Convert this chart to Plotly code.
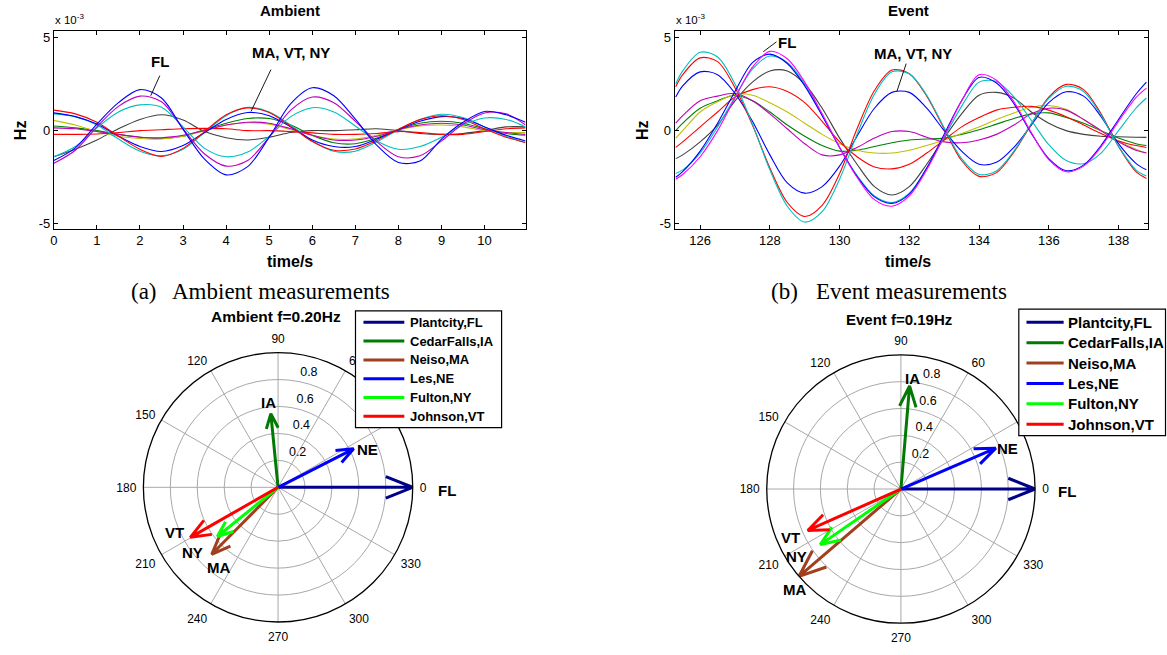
import numpy as np
import plotly.graph_objects as go

W, H = 1167, 655
SANS = "Liberation Sans, Arial, Helvetica, sans-serif"
SERIF = "Liberation Serif, Times New Roman, serif"

# ---------------- frequency deviation traces (units of 1e-3 Hz) ----------------
amb_t = [0, 0.5, 1, 1.5, 2, 2.5, 3, 3.5, 4, 4.5, 5, 5.5, 6, 6.5, 7, 7.5, 8, 8.5,
         9, 9.5, 10, 10.5, 10.95]
amb_blue_a = [-1.6, -0.92, 0.35, 1.5, 2.2, 1.75, 0.07, -1.53, -2.37, -1.93, -0.35, 1.45,
              2.3, 1.87, 0.62, -0.79, -1.71, -1.63, -0.45, 0.45, 1.03, 0.85, 0.45]
amb_magenta_a = [-1.75, -1.05, 0.2, 1.3, 1.85, 1.55, 0.1, -1.25, -1.9, -1.6, -0.35, 1.1,
                 1.8, 1.5, 0.5, -0.6, -1.4, -1.35, -0.55, 0.35, 0.95, 0.9, 0.3]
amb_cyan_a = [-1.4, -0.85, 0.15, 1.0, 1.38, 1.25, 0.2, -0.95, -1.4, -1.15, -0.3, 0.75,
              1.23, 1.0, 0.25, -0.55, -1.0, -0.85, -0.35, 0.3, 0.68, 0.6, 0.2]
amb_red_b = [1.1, 0.9, 0.45, -0.3, -1.0, -1.38, -0.95, -0.05, 0.85, 1.22, 0.97, 0.23,
             -0.58, -1.05, -0.98, -0.53, 0.08, 0.59, 0.8, 0.6, 0.1, -0.35, -0.64]
amb_blue_b = [0.95, 0.75, 0.35, -0.3, -0.85, -1.12, -0.8, -0.1, 0.6, 0.97, 0.8, 0.2,
              -0.5, -0.85, -0.85, -0.45, 0.05, 0.5, 0.75, 0.65, 0.2, -0.25, -0.55]
amb_cyan_b = [0.9, 0.75, 0.3, -0.45, -1.1, -1.35, -1.0, -0.1, 0.8, 1.25, 1.0, 0.3,
              -0.55, -1.1, -1.1, -0.6, 0.05, 0.6, 0.88, 0.7, 0.2, -0.3, -0.65]
amb_gray = [-1.4, -1.0, -0.5, 0.1, 0.6, 0.85, 0.57, -0.05, -0.38, -0.5, -0.35, -0.1,
            0.0, 0.0, 0.05, 0.1, 0.0, -0.15, -0.2, -0.15, 0.0, 0.2, 0.2]
amb_green = [0.25, 0.15, 0.0, -0.2, -0.35, -0.42, -0.3, 0.05, 0.4, 0.65, 0.65, 0.3,
             -0.25, -0.65, -0.7, -0.4, 0.05, 0.4, 0.5, 0.4, 0.1, -0.15, -0.25]
amb_yellow = [0.55, 0.3, -0.05, -0.3, -0.42, -0.45, -0.3, 0.0, 0.3, 0.42, 0.35, 0.05,
              -0.25, -0.45, -0.45, -0.25, 0.05, 0.25, 0.3, 0.2, 0.0, -0.1, -0.1]
amb_red_s = [-0.2, -0.2, -0.18, -0.1, 0.0, 0.05, 0.1, 0.12, 0.1, 0.0, 0.0, -0.05,
             -0.12, -0.2, -0.2, -0.15, -0.05, -0.1, -0.2, -0.2, -0.05, 0.1, 0.15]
amb_magenta_s = [0.15, 0.1, -0.05, -0.2, -0.35, -0.38, -0.25, 0.0, 0.3, 0.45, 0.4, 0.1,
                 -0.25, -0.5, -0.5, -0.3, 0.05, 0.3, 0.4, 0.3, 0.05, -0.1, -0.2]

evt_t = [125.3, 125.5, 126.0, 126.5, 127.0, 127.5, 128.0, 128.5, 129.0, 129.5, 130.0,
         130.5, 131.0, 131.5, 132.0, 132.5, 133.0, 133.5, 134.0, 134.5, 135.0, 135.5,
         136.0, 136.5, 137.0, 137.5, 138.0, 138.5, 138.8]
evt_cyan_a = [2.5, 3.2, 4.2, 3.95, 2.5, 0.35, -2.1, -4.05, -4.9, -4.34, -2.6, -0.2, 1.95,
              3.15, 3.05, 1.9, 0.15, -1.5, -2.35, -2.16, -1.1, 0.38, 1.73, 2.38, 2.1,
              0.83, -0.83, -2.1, -2.43]
evt_red_a = [2.35, 3.0, 3.9, 3.7, 2.3, 0.3, -2.0, -3.85, -4.6, -4.0, -2.3, 0.1, 2.15,
             3.25, 3.05, 1.85, 0.1, -1.6, -2.45, -2.25, -1.15, 0.35, 1.8, 2.48, 2.2,
             0.9, -0.85, -2.2, -2.56]
evt_blue_a = [1.8, 2.4, 3.15, 3.0, 2.0, 0.5, -1.3, -2.8, -3.35, -3.0, -1.9, -0.3, 1.2,
              2.05, 2.05, 1.2, 0.0, -1.1, -1.8, -1.7, -0.9, 0.3, 1.5, 2.08, 1.85, 0.75,
              -0.7, -1.75, -2.1]
evt_magenta_b = [-2.6, -2.35, -1.4, 0.0, 1.75, 3.4, 4.25, 3.85, 2.6, 0.9, -0.9, -2.5,
                 -3.7, -4.05, -3.5, -2.1, -0.3, 1.6, 3.0, 2.7, 1.55, -0.1, -1.55, -2.2,
                 -1.9, -0.87, 0.5, 1.77, 2.28]
evt_blue_b = [-2.5, -2.2, -1.1, 0.4, 2.1, 3.65, 4.1, 3.6, 2.4, 0.8, -0.9, -2.45, -3.55,
              -3.9, -3.4, -2.0, -0.2, 1.6, 2.85, 2.55, 1.45, -0.15, -1.5, -2.15, -1.85,
              -0.8, 0.6, 1.95, 2.6]
evt_cyan_b = [-2.3, -2.1, -1.2, 0.2, 1.8, 3.3, 4.0, 3.65, 2.5, 0.85, -0.9, -2.4, -3.5,
              -3.85, -3.35, -2.0, -0.35, 1.3, 2.6, 2.63, 1.81, 0.55, -0.75, -1.6, -1.77,
              -1.2, 0.0, 1.2, 1.75]
evt_gray = [-1.5, -1.3, -0.6, 0.3, 1.6, 2.6, 3.2, 3.2, 2.5, 1.2, -0.4, -1.8, -3.0,
            -3.45, -3.0, -1.8, -0.4, 0.9, 1.9, 2.05, 1.75, 1.0, 0.4, 0.0, -0.2, -0.3,
            -0.33, -0.35, -0.36]
evt_red_m = [-0.9, -0.6, 0.2, 1.0, 1.8, 2.2, 2.35, 2.1, 1.5, 0.5, -0.6, -1.4, -1.95,
             -2.05, -1.8, -1.2, -0.5, 0.2, 0.7, 1.1, 1.25, 1.3, 1.1, 0.75, 0.3, -0.15,
             -0.55, -0.8, -0.9]
evt_magenta_s = [0.4, 0.8, 1.6, 1.85, 2.0, 1.6, 0.9, 0.1, -0.7, -1.3, -1.3, -0.9, -0.4,
                 -0.05, -0.05, -0.35, -0.6, -0.65, -0.5, -0.2, 0.3, 0.9, 1.2, 1.1, 0.6,
                 0.0, -0.6, -1.05, -1.2]
evt_green = [0.0, 0.4, 1.2, 1.6, 1.9, 1.6, 1.0, 0.3, -0.3, -0.8, -1.1, -1.05, -0.85,
             -0.65, -0.5, -0.45, -0.4, -0.2, 0.05, 0.35, 0.65, 0.9, 0.95, 0.7, 0.4, 0.0,
             -0.4, -0.7, -0.8]
evt_yellow = [-0.4, 0.0, 1.0, 1.55, 1.95, 1.9, 1.5, 1.0, 0.4, -0.2, -0.7, -1.05, -1.2,
              -1.2, -1.05, -0.8, -0.5, -0.15, 0.2, 0.6, 0.95, 1.25, 1.35, 1.15, 0.6, 0.0,
              -0.55, -1.0, -1.2]

ts_yticks = [-5, 0, 5]
ts_yticktext = ["-5", "0", "5"]
amb_xticks = list(range(0, 11))
evt_xticks = list(range(126, 139, 2))

# ---------------- mode shape phasors ----------------
stations = ["Plantcity,FL", "CedarFalls,IA", "Neiso,MA", "Les,NE", "Fulton,NY", "Johnson,VT"]
station_tags = ["FL", "IA", "MA", "NE", "NY", "VT"]
station_colors = ["#000088", "#007a00", "#a0401e", "#0000ff", "#00ff00", "#ff0000"]
amb_mag = [1.0, 0.55, 0.70, 0.63, 0.58, 0.75]
amb_ang = [0.0, 95.6, 225.3, 27.0, 219.0, 209.7]
evt_mag = [1.0, 0.77, 1.0, 0.77, 0.73, 0.76]
evt_ang = [0.0, 85.2, 220.6, 23.3, 214.6, 204.0]

polar_rticks = [0.2, 0.4, 0.6, 0.8, 1.0]
polar_rticktext = ["0.2", "0.4", "0.6", "0.8", "1"]
polar_aticks = list(range(0, 360, 30))

# label placement around each phasor tip (r, theta)
amb_tag_pos = {"FL": (1.25, 359.0), "IA": (0.63, 96.3), "NE": (0.72, 22.9),
               "VT": (0.84, 203.7), "NY": (0.80, 217.2), "MA": (0.74, 233.1)}
evt_tag_pos = {"FL": (1.235, 359.3), "IA": (0.83, 84.0), "NE": (0.85, 21.0),
               "VT": (0.90, 203.7), "NY": (0.92, 212.9), "MA": (1.09, 223.2)}

BLUE, GREEN, RED = "#0000ff", "#008000", "#ff0000"
CYAN, MAG, MAG2 = "#00bfbf", "#bf00bf", "#ff00ff"
YEL, GRAY = "#bfbf00", "#404040"

fig = go.Figure()


def px_x(p):
    return p / W


def px_y(p):
    return 1 - p / H


# ---------- time series panels ----------
amb_series = [(amb_gray, GRAY), (amb_green, GREEN), (amb_yellow, YEL), (amb_red_s, RED),
              (amb_magenta_s, MAG), (amb_cyan_b, CYAN), (amb_blue_b, BLUE), (amb_red_b, RED),
              (amb_cyan_a, CYAN), (amb_magenta_a, MAG), (amb_blue_a, BLUE)]
for vals, col in amb_series:
    fig.add_trace(go.Scatter(x=amb_t, y=vals, mode="lines", xaxis="x", yaxis="y",
                             line=dict(color=col, width=1.1, shape="spline", smoothing=0.9),
                             showlegend=False, hoverinfo="skip"))

evt_series = [(evt_gray, GRAY), (evt_green, GREEN), (evt_yellow, YEL), (evt_red_m, RED),
              (evt_magenta_s, MAG), (evt_blue_a, BLUE), (evt_red_a, RED), (evt_cyan_a, CYAN),
              (evt_cyan_b, CYAN), (evt_blue_b, BLUE), (evt_magenta_b, MAG2)]
for vals, col in evt_series:
    fig.add_trace(go.Scatter(x=evt_t, y=vals, mode="lines", xaxis="x2", yaxis="y2",
                             line=dict(color=col, width=1.1, shape="spline", smoothing=0.9),
                             showlegend=False, hoverinfo="skip"))

# ---------- compass panels ----------
head = np.array([0, 1, 0.8 + 0.08j, 1, 0.8 - 0.08j])


def add_compass(mags, angs, subplot):
    for name, col, m, a in zip(stations, station_colors, mags, angs):
        z = m * np.exp(1j * np.deg2rad(a)) * head
        fig.add_trace(go.Scatterpolar(r=np.abs(z), theta=np.rad2deg(np.angle(z)) % 360,
                                      mode="lines", line=dict(color=col, width=3),
                                      name=name, subplot=subplot, showlegend=False,
                                      hoverinfo="skip"))


add_compass(amb_mag, amb_ang, "polar")
add_compass(evt_mag, evt_ang, "polar2")

for subplot in ("polar", "polar2"):
    fig.add_trace(go.Scatterpolar(
        r=[v + 0.01 for v in polar_rticks], theta=[82] * len(polar_rticks),
        text=["  " + s for s in polar_rticktext], mode="text", subplot=subplot,
        textposition="top right", textfont=dict(family=SANS, size=12.5, color="black"),
        cliponaxis=False, showlegend=False, hoverinfo="skip"))

grid = "#a8a8a8"


def polar_layout(x0, x1, y0, y1):
    return dict(
        domain=dict(x=[x0, x1], y=[y0, y1]), bgcolor="white",
        radialaxis=dict(range=[0, 1], tickvals=polar_rticks, showticklabels=False,
                        ticks="", showline=False, gridcolor=grid, gridwidth=0.8),
        angularaxis=dict(rotation=0, direction="counterclockwise", tickmode="array",
                         tickvals=polar_aticks, ticktext=[str(a) for a in polar_aticks],
                         ticks="outside", ticklen=4, tickcolor="rgba(0,0,0,0)",
                         showline=True, linecolor="black", linewidth=1.3,
                         gridcolor=grid, gridwidth=0.8,
                         tickfont=dict(family=SANS, size=12, color="black")),
    )


cxa, cya, ra = 275, 489.3, 135.5
cxe, cye, re_ = 900, 491, 135
polar_a = polar_layout(px_x(cxa - ra), px_x(cxa + ra), px_y(cya + ra), px_y(cya - ra))
polar_e = polar_layout(px_x(cxe - re_), px_x(cxe + re_), px_y(cye + re_), px_y(cye - re_))


def ts_axis(domain, rng, ticks):
    return dict(domain=domain, range=rng, tickvals=ticks, ticks="inside", ticklen=4,
                tickcolor="black", showline=True, linecolor="black", linewidth=1,
                mirror="ticks", showgrid=False, zeroline=False,
                tickfont=dict(family=SANS, size=13, color="black"))


ydom = [px_y(229), px_y(30)]
xa = ts_axis([px_x(50), px_x(523.3)], [0, 10.95], amb_xticks)
ya = ts_axis(ydom, [-5.25, 5.35], ts_yticks)
ya["ticktext"] = ts_yticktext
xa2 = ts_axis([px_x(673), px_x(1147.7)], [125.27, 138.84], evt_xticks)
ya2 = ts_axis(ydom, [-5.25, 5.35], ts_yticks)
ya2["ticktext"] = ts_yticktext
xa2["anchor"] = "y2"
ya2["anchor"] = "x2"

ann = []
shapes = []


def paper_text(x, y, text, size, font=SANS, xanchor="center", angle=0):
    ann.append(dict(x=px_x(x), y=px_y(y), xref="paper", yref="paper", text=text,
                    showarrow=False, xanchor=xanchor, yanchor="middle", textangle=angle,
                    font=dict(family=font, size=size, color="black")))


# panel titles, axis labels, exponent markers
paper_text(286.5, 10, "<b>Ambient</b>", 15)
paper_text(908, 10, "<b>Event</b>", 15)
paper_text(286.5, 262, "<b>time/s</b>", 16)
paper_text(907, 262, "<b>time/s</b>", 16)
paper_text(16, 130, "<b>Hz</b>", 16, angle=-90)
paper_text(640, 130, "<b>Hz</b>", 16, angle=-90)
paper_text(49, 18, "x 10<sup>-3</sup>", 11.5, xanchor="left")
paper_text(672, 18, "x 10<sup>-3</sup>", 11.5, xanchor="left")
# captions
paper_text(125, 292.7, "(a)", 23, font=SERIF, xanchor="left")
paper_text(167, 292.7, "Ambient measurements", 23, font=SERIF, xanchor="left")
paper_text(768, 292.7, "(b)", 23, font=SERIF, xanchor="left")
paper_text(813, 292.7, "Event measurements", 23, font=SERIF, xanchor="left")
# compass titles
paper_text(273.3, 317.3, "<b>Ambient f=0.20Hz</b>", 15.5)
paper_text(898, 320, "<b>Event f=0.19Hz</b>", 15)

# station tags next to the phasor tips
for cx, cy, R, pos in ((cxa, cya, ra, amb_tag_pos), (cxe, cye, re_, evt_tag_pos)):
    for tag in station_tags:
        r, th = pos[tag]
        paper_text(cx + r * R * np.cos(np.deg2rad(th)), cy - r * R * np.sin(np.deg2rad(th)),
                   f"<b>{tag}</b>", 15)

# callouts on the time series
callouts = [("x", "y", "<b>FL</b>", (2.46, 3.70), (2.46, 2.95), (2.25, 1.87)),
            ("x", "y", "<b>MA, VT, NY</b>", (5.51, 4.17), (5.04, 3.27), (4.58, 1.04)),
            ("x2", "y2", "<b>FL</b>", (128.5, 4.70), (128.19, 4.76), (127.81, 4.23)),
            ("x2", "y2", "<b>MA, VT, NY</b>", (132.12, 4.12), (131.91, 3.59), (131.64, 2.08))]
for xr, yr, txt, tpos, p0, p1 in callouts:
    ann.append(dict(x=tpos[0], y=tpos[1], xref=xr, yref=yr, text=txt, showarrow=False,
                    font=dict(family=SANS, size=15, color="black")))
    shapes.append(dict(type="line", xref=xr, yref=yr, x0=p0[0], y0=p0[1], x1=p1[0],
                       y1=p1[1], line=dict(color="black", width=0.9)))


# legend boxes for the compass panels
def legend_box(left, top, right, bottom, line_x0, line_x1, text_x, rows, size):
    shapes.append(dict(type="rect", xref="paper", yref="paper", layer="above",
                       x0=px_x(left), x1=px_x(right), y0=px_y(bottom), y1=px_y(top),
                       line=dict(color="black", width=1.2), fillcolor="white"))
    for name, col, yrow in zip(stations, station_colors, rows):
        shapes.append(dict(type="line", xref="paper", yref="paper", layer="above",
                           x0=px_x(line_x0), x1=px_x(line_x1), y0=px_y(yrow), y1=px_y(yrow),
                           line=dict(color=col, width=3)))
        paper_text(text_x, yrow, f"<b>{name}</b>", size, xanchor="left")


legend_box(352.7, 311.7, 499.3, 429.3, 360.7, 401.7, 405.5,
           [323.3, 342.2, 361.1, 380.0, 398.9, 417.8], 13)
legend_box(1018.3, 310, 1165.5, 437.3, 1026, 1063.3, 1066,
           [323.3, 343.8, 364.3, 384.8, 405.3, 425.8], 15)

fig.update_layout(
    width=W, height=H, autosize=False, margin=dict(l=0, r=0, t=0, b=0),
    paper_bgcolor="white", plot_bgcolor="white", showlegend=False,
    xaxis=xa, yaxis=ya, xaxis2=xa2, yaxis2=ya2,
    polar=polar_a, polar2=polar_e,
    annotations=ann, shapes=shapes,
)

fig.write_html("out.html")
